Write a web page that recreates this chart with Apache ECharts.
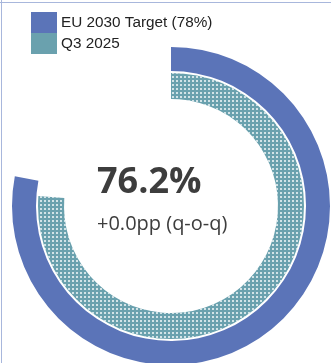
<!DOCTYPE html>
<html>
<head>
<meta charset="utf-8">
<script src="https://cdn.jsdelivr.net/npm/echarts@6/dist/echarts.min.js"></script>
<style>
  html, body { margin: 0; padding: 0; background: #ffffff; }
  #wrap { position: relative; width: 331px; height: 363px; overflow: hidden; }
  #chart { position: absolute; left: 0; top: 0; width: 331px; height: 363px; }
  #edgeTop { position: absolute; left: 0; top: 2px; width: 331px; height: 1px; background: #a8b7dc; }
  #edgeLeft { position: absolute; left: 1px; top: 0; width: 1px; height: 363px; background: #a8b7dc; }
</style>
</head>
<body>
<div id="wrap">
  <div id="chart"></div>
  <div id="edgeTop"></div>
  <div id="edgeLeft"></div>
</div>
<script>
// Renewable share progress: target ring and current-quarter ring
const seriesNames = ['EU 2030 Target', 'Q3 2025'];
const targetValue = 78;      // % target for 2030
const currentValue = 76.2;   // % reached in Q3 2025
const changePp = 0.0;        // quarter-on-quarter change, percentage points
const fullScale = 100;

const targetLabel = seriesNames[0] + ' (' + targetValue + '%)';
const currentLabel = seriesNames[1];

const blue = '#5b74b8';
const teal = '#6aa1ae';

const chart = echarts.init(document.getElementById('chart'), null, { renderer: 'canvas' });

const ringCenter = [171, 206];

chart.setOption({
  animation: false,
  title: {
    text: currentValue.toFixed(1) + '%',
    subtext: (changePp >= 0 ? '+' : '') + changePp.toFixed(1) + 'pp (q-o-q)',
    left: 92,
    top: 160,
    itemGap: 13,
    textStyle: { fontFamily: 'Open Sans', fontWeight: 'bold', fontSize: 36, color: '#3d3d3d' },
    subtextStyle: { fontFamily: 'Open Sans', fontWeight: 'normal', fontSize: 20, color: '#3d3d3d' }
  },
  legend: {
    orient: 'vertical',
    left: 31,
    top: 12,
    itemWidth: 26,
    itemHeight: 21,
    itemGap: 0,
    icon: 'rect',
    selectedMode: false,
    padding: 0,
    textStyle: { fontFamily: 'Liberation Sans', fontSize: 15.3, color: '#222222', padding: [0, 0, 0, -1] },
    data: [
      { name: targetLabel, itemStyle: { color: blue, decal: 'none' } },
      { name: currentLabel, itemStyle: { color: teal, decal: 'none' } }
    ]
  },
  series: [
    {
      type: 'pie',
      center: ringCenter,
      radius: [135, 159],
      startAngle: 90,
      clockwise: true,
      silent: true,
      label: { show: false },
      labelLine: { show: false },
      emphasis: { disabled: true },
      data: [
        { name: targetLabel, value: targetValue, itemStyle: { color: blue } },
        { name: 'target-rest', value: fullScale - targetValue, itemStyle: { color: 'rgba(0,0,0,0)' } }
      ]
    },
    {
      type: 'pie',
      center: ringCenter,
      radius: [107, 133],
      startAngle: 90,
      clockwise: true,
      silent: true,
      label: { show: false },
      labelLine: { show: false },
      emphasis: { disabled: true },
      data: [
        {
          name: currentLabel,
          value: currentValue,
          itemStyle: {
            color: teal,
            decal: {
              symbol: 'rect',
              symbolSize: 1,
              dashArrayX: [2, 2],
              dashArrayY: [2, 2],
              rotation: 0,
              color: 'rgba(255,255,255,0.7)'
            }
          }
        },
        { name: 'current-rest', value: fullScale - currentValue, itemStyle: { color: 'rgba(0,0,0,0)' } }
      ]
    }
  ]
});
</script>
</body>
</html>
